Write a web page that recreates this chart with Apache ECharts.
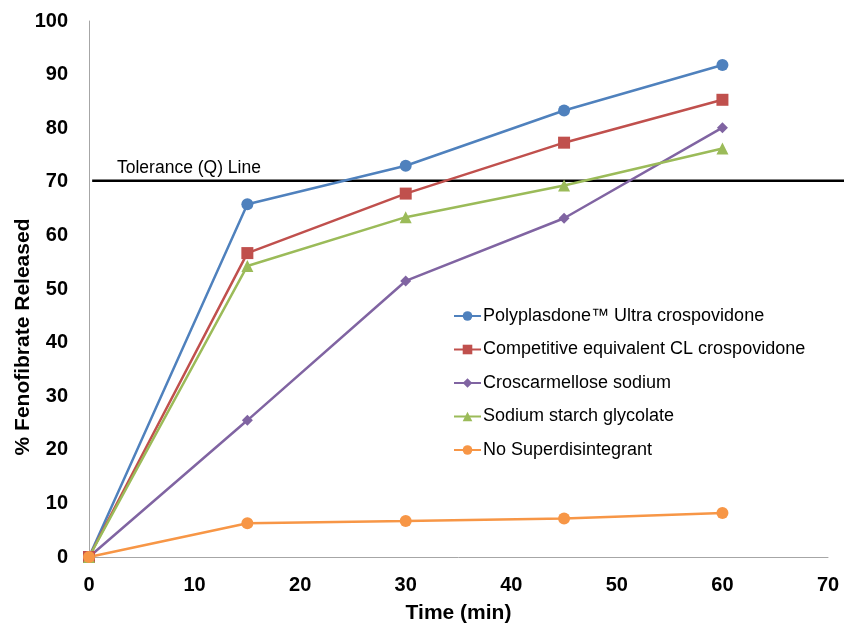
<!DOCTYPE html>
<html><head><meta charset="utf-8">
<script src="https://cdn.jsdelivr.net/npm/echarts@6/dist/echarts.min.js"></script>
<style>html,body{margin:0;padding:0;background:#fff}#c{width:844px;height:629px}</style>
</head><body><div id="c"></div>
<script>
const times = [0, 15, 30, 45, 60];
const seriesNames = ['Polyplasdone™ Ultra crospovidone','Competitive equivalent CL crospovidone','Croscarmellose sodium','Sodium starch glycolate','No Superdisintegrant'];
const polyplasdone = [0, 65.8, 73.0, 83.3, 91.8];
const competitiveCL = [0, 56.7, 67.8, 77.3, 85.3];
const croscarmellose = [0, 25.5, 51.5, 63.2, 80.1];
const sodiumStarch = [0, 54.3, 63.4, 69.3, 76.2];
const noSuper = [0, 6.3, 6.7, 7.2, 8.2];
const toleranceX = [0.3, 71.5];
const toleranceY = 70.3;
const xTicks = [0,10,20,30,40,50,60,70];
const yTicks = [0,10,20,30,40,50,60,70,80,90,100];

const colors = ['#4F81BD','#C0504D','#8064A2','#9BBB59','#F79646'];
const symbols = ['circle','rect','diamond','triangle','circle'];
const sizes = [12, 12, 11, 12, 12];
const values = [polyplasdone, competitiveCL, croscarmellose, sodiumStarch, noSuper];
const FONT = 'Liberation Sans, Arial, sans-serif';

const series = values.map((v, i) => ({
  name: seriesNames[i],
  type: 'line',
  data: times.map((t, j) => [t, v[j]]),
  symbol: symbols[i],
  symbolSize: sizes[i],
  showAllSymbol: true,
  lineStyle: {color: colors[i], width: 2.5},
  itemStyle: {color: colors[i]},
  z: 3
}));
series.unshift({
  name: 'Tolerance',
  type: 'line',
  xAxisIndex: 1, yAxisIndex: 1,
  data: toleranceX.map(x => [x, toleranceY]),
  symbol: 'none',
  clip: false,
  silent: true,
  lineStyle: {color: '#000', width: 2.5},
  z: 2
});

const chart = echarts.init(document.getElementById('c'));
chart.setOption({
  animation: false,
  backgroundColor: '#fff',
  title: {
    text: 'Tolerance (Q) Line',
    left: 112, top: 154,
    textStyle: {fontFamily: FONT, fontSize: 17.5, fontWeight: 'normal', color: '#000'}
  },
  graphic: [{
    type: 'text',
    x: 23, y: 337,
    rotation: Math.PI / 2,
    style: {text: '% Fenofibrate Released', fontFamily: FONT, fontSize: 21, fontWeight: 'bold', fill: '#000', align: 'center', verticalAlign: 'middle'}
  }],
  grid: [
    {left: 89, right: 16, top: 21, bottom: 70, containLabel: false},
    {left: 89, right: 0, top: 21, bottom: 70, containLabel: false}
  ],
  legend: {
    data: seriesNames,
    orient: 'vertical',
    left: 448, top: 302,
    itemGap: 15.5,
    itemWidth: 27, itemHeight: 12,
    textStyle: {fontFamily: FONT, fontSize: 18, color: '#000', padding: [0,0,0,-3]}
  },
  xAxis: [{
    type: 'value', min: 0, max: 70, interval: 10,
    name: 'Time (min)', nameLocation: 'middle', nameGap: 46,
    nameTextStyle: {fontFamily: FONT, fontSize: 21, fontWeight: 'bold', color: '#000'},
    axisLine: {show: true, lineStyle: {color: '#A6A6A6', width: 1}},
    axisTick: {show: false},
    splitLine: {show: false},
    axisLabel: {fontFamily: FONT, fontSize: 20, fontWeight: 'bold', color: '#000', margin: 18,
      formatter: v => xTicks.includes(v) ? String(v) : ''}
  }, {
    type: 'value', gridIndex: 1, min: 0, max: 71.5, show: false
  }],
  yAxis: [{
    type: 'value', min: 0, max: 100, interval: 10,
    axisLine: {show: true, lineStyle: {color: '#A6A6A6', width: 1}},
    axisTick: {show: false},
    splitLine: {show: false},
    axisLabel: {fontFamily: FONT, fontSize: 20, fontWeight: 'bold', color: '#000', margin: 21,
      formatter: v => yTicks.includes(v) ? String(v) : ''}
  }, {
    type: 'value', gridIndex: 1, min: 0, max: 100, show: false
  }],
  series: series
});
</script></body></html>
